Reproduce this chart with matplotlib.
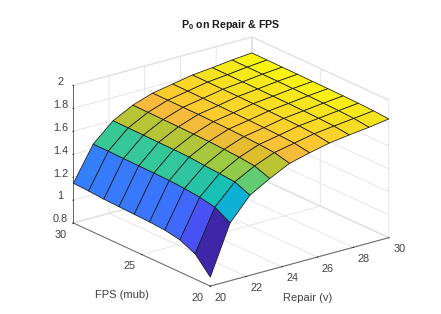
import numpy as np
import matplotlib
matplotlib.use("Agg")
import matplotlib.pyplot as plt
from matplotlib.colors import LinearSegmentedColormap

plt.rcParams['font.family'] = ['Liberation Sans', 'DejaVu Sans']
plt.rcParams['mathtext.fontset'] = 'custom'
plt.rcParams['mathtext.rm'] = 'Liberation Sans'
plt.rcParams['mathtext.bf'] = 'Liberation Sans:bold'

# grid
repair = [20, 21.11, 22.22, 23.33, 24.44, 25.56, 26.67, 27.78, 28.89, 30]
fps = [20, 21.11, 22.22, 23.33, 24.44, 25.56, 26.67, 27.78, 28.89, 30]

# one row per fps value, one column per repair value
p0 = [
    [0.878, 1.304, 1.498, 1.597, 1.682, 1.727, 1.765, 1.789, 1.809, 1.835],
    [1.020, 1.380, 1.553, 1.645, 1.715, 1.750, 1.785, 1.805, 1.825, 1.845],
    [1.080, 1.406, 1.565, 1.660, 1.725, 1.758, 1.793, 1.812, 1.832, 1.850],
    [1.105, 1.421, 1.574, 1.668, 1.732, 1.763, 1.797, 1.816, 1.836, 1.853],
    [1.115, 1.430, 1.586, 1.675, 1.737, 1.767, 1.800, 1.819, 1.839, 1.855],
    [1.120, 1.433, 1.590, 1.678, 1.740, 1.770, 1.803, 1.821, 1.841, 1.856],
    [1.125, 1.435, 1.592, 1.681, 1.742, 1.772, 1.805, 1.823, 1.843, 1.858],
    [1.130, 1.438, 1.594, 1.683, 1.743, 1.774, 1.806, 1.824, 1.844, 1.859],
    [1.140, 1.441, 1.596, 1.685, 1.744, 1.776, 1.808, 1.825, 1.845, 1.860],
    [1.147, 1.441, 1.597, 1.687, 1.745, 1.777, 1.809, 1.826, 1.846, 1.861],
]

repair_ticks = [20, 22, 24, 26, 28, 30]
fps_ticks = [20, 25, 30]
p0_ticks = [0.8, 1, 1.2, 1.4, 1.6, 1.8, 2]
p0_ticklabels = ['0.8', '1', '1.2', '1.4', '1.6', '1.8', '2']

# matlab parula, sampled
parula = LinearSegmentedColormap.from_list('parula', [
    (0 / 63, (0.2422, 0.1504, 0.6603)), (4 / 63, (0.2706, 0.2147, 0.8364)),
    (9 / 63, (0.2810, 0.3228, 0.9579)), (14 / 63, (0.2440, 0.4358, 0.9988)),
    (18 / 63, (0.1786, 0.5289, 0.9682)), (23 / 63, (0.1380, 0.6276, 0.8973)),
    (28 / 63, (0.0297, 0.7082, 0.8163)), (32 / 63, (0.0964, 0.7500, 0.7120)),
    (36 / 63, (0.2161, 0.7843, 0.5923)), (40 / 63, (0.3909, 0.8029, 0.4354)),
    (44 / 63, (0.6174, 0.7876, 0.2612)), (48 / 63, (0.8203, 0.7498, 0.1535)),
    (52 / 63, (0.9728, 0.7298, 0.2394)), (56 / 63, (0.9892, 0.8073, 0.1797)),
    (60 / 63, (0.9598, 0.8899, 0.1202)), (63 / 63, (0.9763, 0.9831, 0.0538)),
])

X, Y = np.meshgrid(repair, fps)
Z = np.array(p0)
colors = parula((Z - Z.min()) / (Z.max() - Z.min()))

fig = plt.figure(figsize=(4.41, 3.14), dpi=100)
ax = fig.add_axes([0, -78.6 / 314, 450 / 441, 450 / 314], projection='3d', proj_type='ortho')
ax.view_init(elev=30, azim=-127.5)
ax.set_box_aspect((1, 1, 1), zoom=0.594)

# matlab stretches the box to fill the window, so widen the projection
base_proj = ax.get_proj
ax.get_proj = lambda: np.dot(np.diag([1.415, 1, 1, 1]), base_proj())

ax.plot_surface(X, Y, Z, facecolors=colors, rstride=1, cstride=1, shade=False,
                edgecolor='#1a1a1a', linewidth=0.55, antialiased=True)

ax.set_xlim(20, 30, view_margin=0)
ax.set_ylim(20, 30, view_margin=0)
ax.set_zlim(0.8, 2, view_margin=0)
ax.set_xticks(repair_ticks)
ax.set_yticks(fps_ticks)
ax.set_zticks(p0_ticks)
ax.set_zticklabels(p0_ticklabels)
ax.tick_params(labelsize=7.8, labelcolor='#404040', pad=-2)
ax.tick_params(axis='x', pad=-2.5)
ax.tick_params(axis='z', pad=-1)
for label in ax.get_xticklabels():
    label.set_ha('left')
for label in ax.get_yticklabels():
    label.set_ha('right')
for label in ax.get_zticklabels():
    label.set_va('baseline')

for axis in (ax.xaxis, ax.yaxis, ax.zaxis):
    axis.set_pane_color((1, 1, 1, 1))
    axis.pane.set_edgecolor('#e6e6e6')
    axis.line.set_color('#666666')
    axis.line.set_linewidth(0.7)
    axis._axinfo['grid']['color'] = '#e2e2e2'
    axis._axinfo['grid']['linewidth'] = 0.6
    axis._axinfo['tick']['color'] = '#666666'
    axis._axinfo['tick']['inward_factor'] = 0.03
    axis._axinfo['tick']['outward_factor'] = 0.0
    axis._axinfo['tick']['linewidth'] = {True: 0.6, False: 0.5}

# axis labels sit flat in the reference, the 3d axis would rotate and crowd them
fig.text(308 / 441, 1 - 298 / 314, 'Repair (v)', ha='center', va='center', fontsize=8, color='#404040')
fig.text(122 / 441, 1 - 295 / 314, 'FPS (mub)', ha='center', va='center', fontsize=8, color='#404040')

fig.text(231 / 441, 1 - 25 / 314, r'$\mathbf{P_0}$ on Repair & FPS', ha='center', va='center',
         fontsize=7.7, fontweight='bold', color='#1a1a1a')

fig.savefig('out.png', dpi=100)
